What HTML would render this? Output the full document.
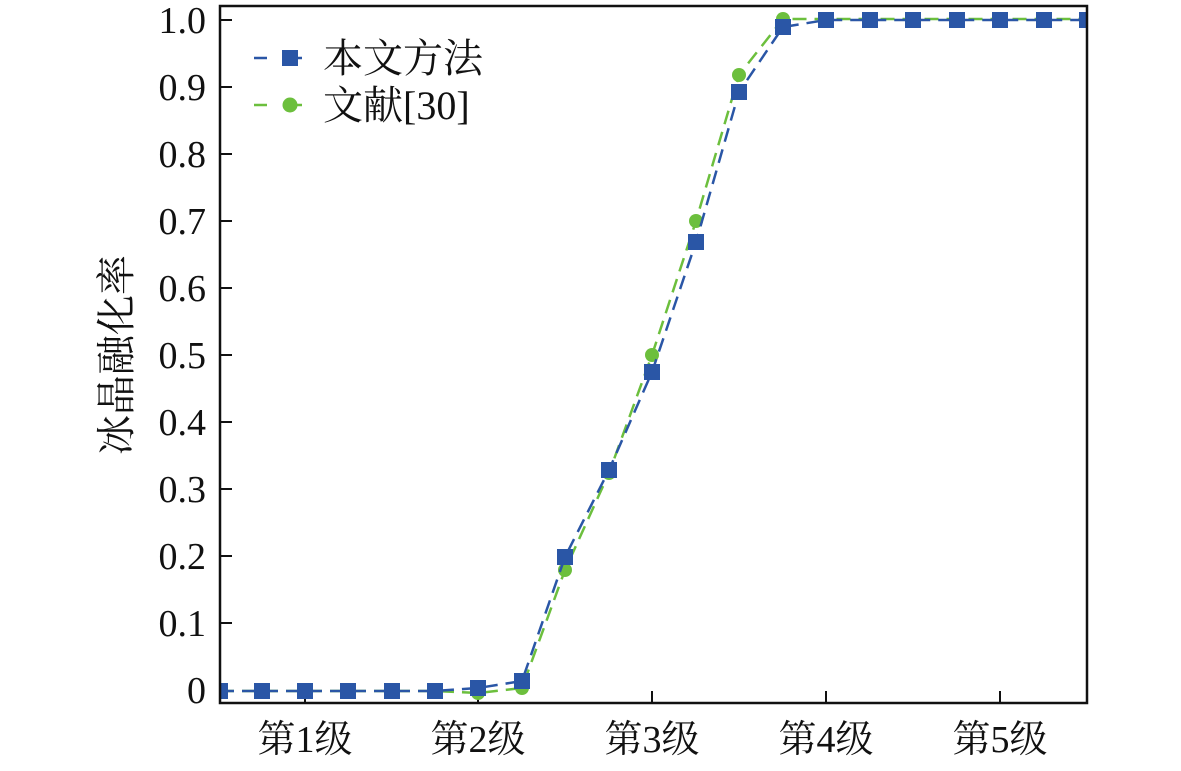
<!DOCTYPE html>
<html><head><meta charset="utf-8"><style>body{margin:0;background:#fff}</style></head><body>
<svg width="1181" height="766" xmlns="http://www.w3.org/2000/svg" font-family="'Liberation Serif','Noto Serif CJK SC',serif">
<defs><clipPath id="c"><rect x="220" y="6" width="868" height="697"/></clipPath></defs>
<g font-size="38" fill="#111" text-anchor="end">
<text x="206" y="33">1.0</text><text x="206" y="100">0.9</text><text x="206" y="167">0.8</text><text x="206" y="234">0.7</text><text x="206" y="301">0.6</text><text x="206" y="368">0.5</text><text x="206" y="435">0.4</text><text x="206" y="502">0.3</text><text x="206" y="569">0.2</text><text x="206" y="636">0.1</text><text x="206" y="703">0</text>
</g>
<g font-size="38" fill="#111" text-anchor="middle">
<text x="305" y="752">第1级</text><text x="478" y="752">第2级</text><text x="652" y="752">第3级</text><text x="826" y="752">第4级</text><text x="1000" y="752">第5级</text>
</g>
<text transform="translate(130,355) rotate(-90)" font-size="40" text-anchor="middle" fill="#111">冰晶融化率</text>
<g stroke="#111" stroke-width="2">
<path d="M220 20h12M220 87h12M220 154h12M220 221h12M220 288h12M220 355h12M220 422h12M220 489h12M220 556h12M220 623h12M220 691h12"/>
<path d="M305 703v-12M478 703v-12M652 703v-12M826 703v-12M1000 703v-12"/>
</g>
<g clip-path="url(#c)">
<polyline fill="none" stroke="#6cbf3d" stroke-width="2.5" stroke-dasharray="14,8" points="220,691 262,691 305,691 348,691 392,691 435,691 478,693 522,688 565,570 609,473 652,355 696,221 739,75 783,19 826,19 870,19 913,19 957,19 1000,19 1044,19 1087,19"/>
<g fill="#6cbf3d"><circle cx="478" cy="693" r="7"/><circle cx="522" cy="688" r="7"/><circle cx="565" cy="570" r="7"/><circle cx="609" cy="473" r="7"/><circle cx="652" cy="355" r="7"/><circle cx="696" cy="221" r="7"/><circle cx="739" cy="75" r="7"/><circle cx="783" cy="19" r="7"/></g>
<polyline fill="none" stroke="#2a56a6" stroke-width="2.5" stroke-dasharray="14,8" points="220,691 262,691 305,691 348,691 392,691 435,691 478,688 522,681 565,557 609,470 652,372 696,242 739,92 783,27 826,20 870,20 913,20 957,20 1000,20 1044,20 1087,20"/>
<g fill="#2a56a6">
<rect x="212" y="683" width="16" height="16"/><rect x="254" y="683" width="16" height="16"/><rect x="297" y="683" width="16" height="16"/><rect x="340" y="683" width="16" height="16"/><rect x="384" y="683" width="16" height="16"/><rect x="427" y="683" width="16" height="16"/><rect x="470" y="680" width="16" height="16"/><rect x="514" y="673" width="16" height="16"/><rect x="557" y="549" width="16" height="16"/><rect x="601" y="462" width="16" height="16"/><rect x="644" y="364" width="16" height="16"/><rect x="688" y="234" width="16" height="16"/><rect x="731" y="84" width="16" height="16"/><rect x="775" y="19" width="16" height="16"/><rect x="818" y="12" width="16" height="16"/><rect x="862" y="12" width="16" height="16"/><rect x="905" y="12" width="16" height="16"/><rect x="949" y="12" width="16" height="16"/><rect x="992" y="12" width="16" height="16"/><rect x="1036" y="12" width="16" height="16"/><rect x="1079" y="12" width="16" height="16"/>
</g>
</g>
<rect x="220" y="6" width="867" height="697" fill="none" stroke="#111" stroke-width="2.5"/>
<g stroke-width="2.5">
<path d="M254 58h13M289 58h13" stroke="#2a56a6"/><rect x="282" y="50" width="16" height="16" fill="#2a56a6"/>
<path d="M254 105h13M289 105h13" stroke="#6cbf3d"/><circle cx="290" cy="105" r="7.5" fill="#6cbf3d"/>
</g>
<text x="323" y="72" font-size="40" fill="#111">本文方法</text>
<text x="323" y="119" font-size="40" fill="#111">文献[30]</text>
</svg>
</body></html>
